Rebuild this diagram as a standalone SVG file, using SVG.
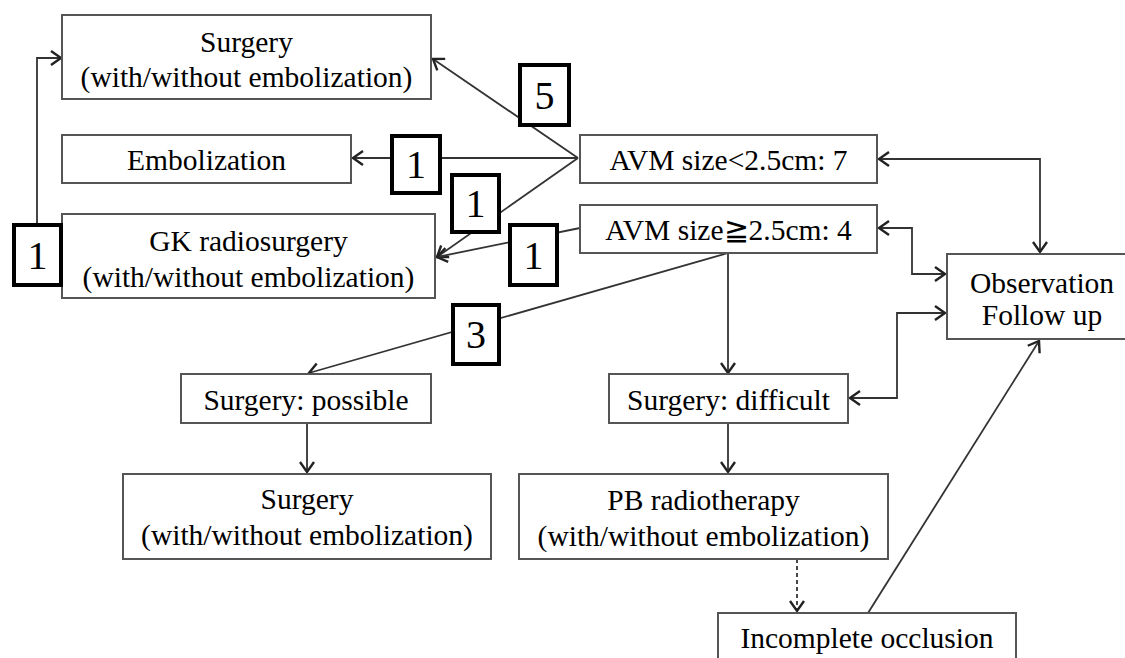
<svg xmlns="http://www.w3.org/2000/svg" width="1125" height="658" viewBox="0 0 1125 658">
<style>
.box{fill:#fff;stroke:#555;stroke-width:2}
.num{fill:#fff;stroke:#000;stroke-width:4}
.t{font-family:"Liberation Serif","Times New Roman",serif;font-size:29.5px;fill:#000;text-anchor:middle}
.n{font-family:"Liberation Serif","Times New Roman",serif;font-size:40px;fill:#000;text-anchor:middle}
.c{fill:none;stroke:#333;stroke-width:1.8}
.d{stroke-dasharray:4 3}
</style>
<defs>
<marker id="ah" markerUnits="userSpaceOnUse" markerWidth="20" markerHeight="20" viewBox="-12 -10 14 20" refX="0" refY="0" orient="auto-start-reverse">
<path d="M-10,-7 L0,0 L-10,7" fill="none" stroke="#222" stroke-width="2.4"/>
</marker>
</defs>
<g id="connectors">
<path class="c" d="M37,223 V58 H61" marker-end="url(#ah)"/>
<path class="c" d="M578,158 L433,59" marker-end="url(#ah)"/>
<path class="c" d="M578,158 L353,158" marker-end="url(#ah)"/>
<path class="c" d="M578,158 L437,257" marker-end="url(#ah)"/>
<path class="c" d="M580,228 L437,257" marker-end="url(#ah)"/>
<path class="c" d="M728,253 L309,373" marker-end="url(#ah)"/>
<path class="c" d="M728,253 V373" marker-end="url(#ah)"/>
<path class="c" d="M879,159 H1040 V252" marker-start="url(#ah)" marker-end="url(#ah)"/>
<path class="c" d="M879,228 H912 V274 H945" marker-start="url(#ah)" marker-end="url(#ah)"/>
<path class="c" d="M850,398 H897 V313 H945" marker-start="url(#ah)" marker-end="url(#ah)"/>
<path class="c" d="M307,423 V472" marker-end="url(#ah)"/>
<path class="c" d="M728,423 V472" marker-end="url(#ah)"/>
<path class="c d" d="M797,559 V611" marker-end="url(#ah)"/>
<path class="c" d="M868,613 L1039,341" marker-end="url(#ah)"/>
</g>
<g id="surgery-top"><rect class="box" x="62" y="15" width="369" height="84"/><text class="t" x="246.5" y="52">Surgery</text><text class="t" x="246.5" y="87">(with/without embolization)</text></g>
<g id="embolization"><rect class="box" x="62" y="135" width="289" height="48"/><text class="t" x="206.5" y="170">Embolization</text></g>
<g id="gk"><rect class="box" x="62" y="214" width="373" height="84"/><text class="t" x="248.5" y="251">GK radiosurgery</text><text class="t" x="248.5" y="287">(with/without embolization)</text></g>
<g id="avm-small"><rect class="box" x="580" y="135" width="297" height="48"/><text class="t" x="728.5" y="170">AVM size&lt;2.5cm: 7</text></g>
<g id="avm-large"><rect class="box" x="580" y="205" width="297" height="48"/><text class="t" x="728.5" y="240">AVM size≧2.5cm: 4</text></g>
<g id="observation"><rect class="box" x="947" y="254" width="190" height="85"/><text class="t" x="1042" y="293">Observation</text><text class="t" x="1042" y="325">Follow up</text></g>
<g id="surgery-possible"><rect class="box" x="181" y="374" width="250" height="49"/><text class="t" x="306" y="410">Surgery: possible</text></g>
<g id="surgery-difficult"><rect class="box" x="609" y="374" width="239" height="49"/><text class="t" x="728.5" y="410">Surgery: difficult</text></g>
<g id="surgery-bottom"><rect class="box" x="123" y="474" width="368" height="85"/><text class="t" x="307" y="509">Surgery</text><text class="t" x="307" y="545">(with/without embolization)</text></g>
<g id="pb"><rect class="box" x="519" y="474" width="369" height="85"/><text class="t" x="703.5" y="510">PB radiotherapy</text><text class="t" x="703.5" y="546">(with/without embolization)</text></g>
<g id="incomplete"><rect class="box" x="718" y="613" width="298" height="60"/><text class="t" x="867" y="648">Incomplete occlusion</text></g>
<g id="n-left1"><rect class="num" x="14" y="225" width="47" height="60"/><text class="n" x="37.5" y="269">1</text></g>
<g id="n-5"><rect class="num" x="520" y="65" width="49" height="60"/><text class="n" x="544.5" y="109">5</text></g>
<g id="n-emb1"><rect class="num" x="392" y="136" width="48" height="57"/><text class="n" x="416" y="178">1</text></g>
<g id="n-gk1a"><rect class="num" x="452" y="175" width="47" height="57"/><text class="n" x="475.5" y="217">1</text></g>
<g id="n-gk1b"><rect class="num" x="510" y="225" width="47" height="60"/><text class="n" x="533.5" y="269">1</text></g>
<g id="n-3"><rect class="num" x="453" y="305" width="46" height="59"/><text class="n" x="476" y="348">3</text></g>
</svg>
